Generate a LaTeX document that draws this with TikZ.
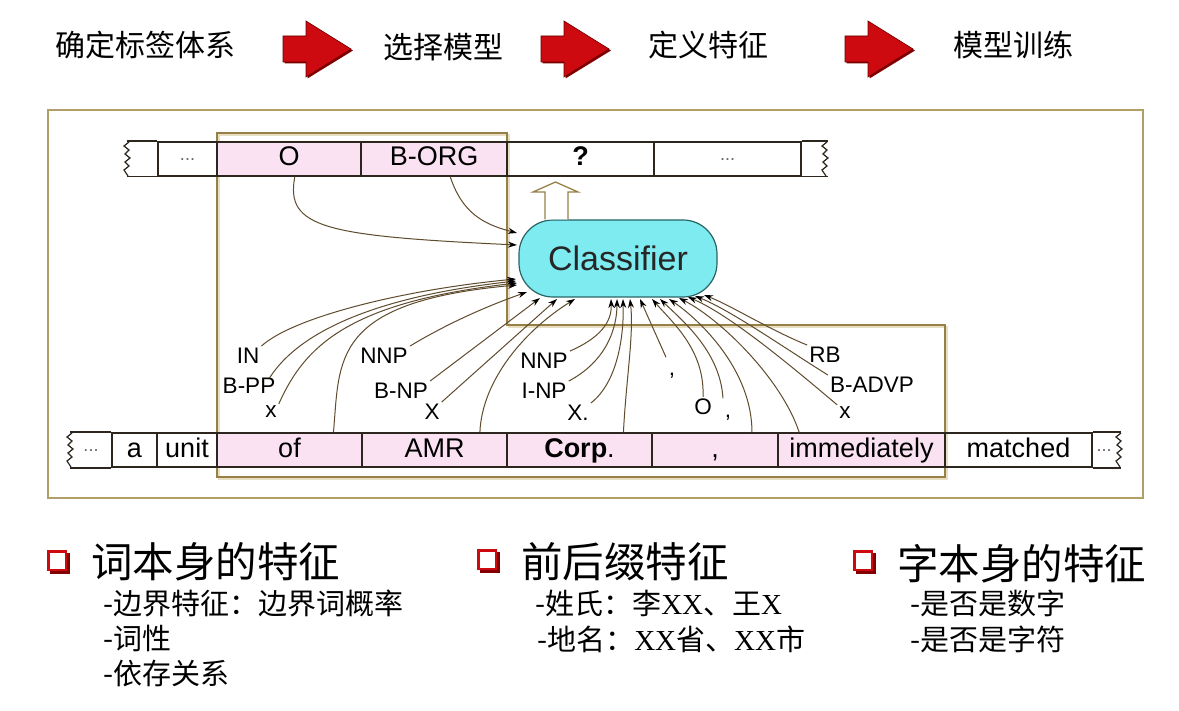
\documentclass[tikz,border=0pt]{standalone}
\usepackage{fontspec}
\setmainfont{Liberation Sans}
\newfontfamily\cjk{Noto Sans CJK SC}
\newfontfamily\tms{Liberation Serif}
\usetikzlibrary{arrows.meta,calc}
\definecolor{framec}{RGB}{176,160,104}
\definecolor{innerc}{RGB}{150,128,70}
\definecolor{shadc}{RGB}{232,222,196}
\definecolor{rowc}{RGB}{45,38,30}
\definecolor{pinkc}{RGB}{250,226,242}
\definecolor{linec}{RGB}{95,75,45}
\definecolor{clsfill}{RGB}{125,235,240}
\definecolor{clsdraw}{RGB}{40,100,100}
\definecolor{redc}{RGB}{205,10,15}
\definecolor{darkred}{RGB}{130,0,0}
\tikzset{
  cellw/.style={draw=rowc, line width=1.5pt, minimum height=34pt, inner sep=0pt,
    text height=19pt, text depth=5pt, font=\fontsize{27}{30}\selectfont},
  cellp/.style={cellw, fill=pinkc},
  dots/.style={font=\fontsize{18}{20}\selectfont, text=black!60, inner sep=0pt},
  lab/.style={font=\fontsize{22.5}{25}\selectfont, inner sep=2pt},
  feat/.style={draw=linec, line width=1pt, -{Stealth[length=9pt,width=6pt,color=black]}},
  toplab/.style={font=\cjk\fontsize{30}{33}\selectfont, inner sep=0pt},
  head/.style={font=\cjk\fontsize{41.5}{45}\selectfont, anchor=west, inner sep=0pt},
  item/.style={font=\cjk\fontsize{29}{32}\selectfont, anchor=west, inner sep=0pt},
  jag/.style={draw=rowc, line width=1.2pt},
  redarr/.pic={
    \fill[darkred] (1.5,-11.5) -- (24.5,-11.5) -- (24.5,-26.5) -- (70,1.5) -- (24.5,29.5) -- (24.5,14.5) -- (1.5,14.5) -- cycle;
    \fill[redc, draw=darkred!80!black, line width=0.6pt] (0,-13) -- (23,-13) -- (23,-28) -- (68,0) -- (23,28) -- (23,13) -- (0,13) -- cycle;
  },
  bullet/.pic={
    \fill[darkred] (3,3) rectangle (23,24);
    \draw[redc, fill=white, line width=2.5pt] (1.5,1.5) rectangle (19,20);
  }
}
\begin{document}
\begin{tikzpicture}[x=1pt,y=-1pt]
\useasboundingbox[fill=white] (0,0) rectangle (1179,711);

% ---- top process row
\node[toplab] (s1) at (146,45) {确定标签体系};
\node[toplab] (s2) at (443,47) {选择模型};
\node[toplab] (s3) at (708,45) {定义特征};
\node[toplab] (s4) at (1013,45) {模型训练};
\pic at (283,49) {redarr};
\pic at (541,49) {redarr};
\pic at (845,49) {redarr};

% ---- outer frame
\draw[framec, line width=2pt] (48,110) rectangle (1143,498);

% ---- inner outline (window)
\draw[shadc, line width=2pt] (219,135) -- (509,135) -- (509,327) -- (947,327) -- (947,479) -- (219,479) -- cycle;
\draw[innerc, line width=1.5pt] (217,133) -- (507,133) -- (507,325) -- (945,325) -- (945,477) -- (217,477) -- cycle;

% ---- top tag row
\node[cellw, minimum width=59] (t1) at (187.5,159) {};
\node[dots] at (187.5,160) {...};
\node[cellp, minimum width=144] (to) at (289,159) {O};
\node[cellp, minimum width=146] (tb) at (434,159) {B-ORG};
\node[cellw, minimum width=147, font=\fontsize{27}{30}\selectfont\bfseries] (tq) at (580.5,159) {?};
\node[cellw, minimum width=147] (t5) at (727.5,159) {};
\node[dots] at (727.5,160) {...};
\draw[rowc, line width=1.5pt] (t1.north west) -- ++(-30,0);
\draw[rowc, line width=1.5pt] (t1.south west) -- ++(-30,0);
\draw[rowc, line width=1.5pt] (t5.north east) -- ++(26,0);
\draw[rowc, line width=1.5pt] (t5.south east) -- ++(26,0);
\draw[jag] (129,142) -- (124,146) -- (129,150) -- (125,154) -- (130,158) -- (125,162) -- (129,166) -- (124,170) -- (128,176);
\draw[jag] (827,142) -- (822,146) -- (827,150) -- (823,154) -- (828,158) -- (823,162) -- (827,166) -- (822,170) -- (826,176);

% ---- classifier
\node[draw=clsdraw, fill=clsfill, line width=1.2pt, rounded corners=34pt,
      minimum width=198, minimum height=77, inner sep=0pt,
      font=\fontsize{34}{38}\selectfont, text=black!85] (cls) at (618,258.5) {Classifier};
\draw[innerc, fill=white, line width=1.3pt] (cls.north -| 545,0) -- (545,192) -- (533,192) -- (555.5,182) -- (578,192) -- (568,192) -- (cls.north -| 568,0);

% ---- bottom word row
\node[dots] (b0) at (91,451) {...};
\node[cellw, minimum width=45] (ba) at (134.5,450) {a};
\node[cellw, minimum width=60] (bu) at (187,450) {unit};
\node[cellp, minimum width=145] (bof) at (289.5,450) {of};
\node[cellp, minimum width=145] (bamr) at (434.5,450) {AMR};
\node[cellp, minimum width=145] (bcorp) at (579.5,450) {\textbf{Corp}.};
\node[cellp, minimum width=126] (bcom) at (715,450) {,};
\node[cellp, minimum width=167] (bimm) at (861.5,450) {immediately};
\node[cellw, minimum width=147] (bmat) at (1018.5,450) {matched};
\node[dots] (b9) at (1104,451) {...};
\draw[rowc, line width=1.5pt] (ba.north west) -- ++(-41,0);
\draw[rowc, line width=1.5pt] (ba.south west) -- ++(-41,0);
\draw[rowc, line width=1.5pt] (bmat.north east) -- ++(28,0);
\draw[rowc, line width=1.5pt] (bmat.south east) -- ++(28,0);
\draw[jag] (72,433) -- (67,437) -- (72,441) -- (68,445) -- (73,449) -- (68,453) -- (72,457) -- (67,461) -- (71,467);
\draw[jag] (1121,433) -- (1116,437) -- (1121,441) -- (1117,445) -- (1122,449) -- (1117,453) -- (1121,457) -- (1116,461) -- (1120,467);

% ---- feature labels
\node[lab] (lIN) at (248,356) {IN};
\node[lab] (lBPP) at (249,386) {B-PP};
\node[lab] (lx) at (271,412) {x};
\node[lab] (lNNPa) at (384,356) {NNP};
\node[lab] (lBNP) at (401,391) {B-NP};
\node[lab] (lX) at (432,412) {X};
\node[lab] (lNNPb) at (544,361) {NNP};
\node[lab] (lINP) at (544,391) {I-NP};
\node[lab] (lXd) at (578,413) {X.};
\node[lab, anchor=base] (lca) at (672,376) {,};
\node[lab] (lO) at (703,407) {O};
\node[lab, anchor=base] (lcb) at (728,418) {,};
\node[lab] (lRB) at (825,355) {RB};
\node[lab] (lBADVP) at (872,385) {B-ADVP};
\node[lab] (lxb) at (845,413) {x};

% ---- arrow end points on the classifier
\coordinate (kO) at (517,245);
\coordinate (kB) at (517,233);
\coordinate (k1) at (516,279);
\coordinate (k2) at (516,281);
\coordinate (k3) at (517,283);
\coordinate (k4) at (517,285);
\coordinate (k5) at (527,292);
\coordinate (k6) at (540,298);
\coordinate (k7) at (557,299);
\coordinate (k8) at (575,299);
\coordinate (k9) at (611,299);
\coordinate (k10) at (617,299);
\coordinate (k11) at (623,299);
\coordinate (k12) at (630,299);
\coordinate (k13) at (640,299);
\coordinate (k14) at (652,299);
\coordinate (k15) at (660,299);
\coordinate (k16) at (669,299);
\coordinate (k17) at (679,298);
\coordinate (k18) at (688,297);
\coordinate (k19) at (695,296);
\coordinate (k20) at (704,295);

% ---- connectors from previous tags
\draw[feat] ($(to.south west)!0.54!(to.south east)$) .. controls (285,228) and (325,236) .. (kO);
\draw[feat] ($(tb.south west)!0.61!(tb.south east)$) .. controls (462,212) and (482,224) .. (kB);

% ---- connectors from features
\draw[feat] (lIN.north east) .. controls (292,318) and (400,290) .. (k1);
\draw[feat] ($(lBPP.north east)+(-8,2)$) .. controls (300,330) and (380,296) .. (k2);
\draw[feat] (lx.north east) .. controls (305,345) and (350,302) .. (k3);
\draw[feat] ($(bof.north west)!0.8!(bof.north east)$) .. controls (340,360) and (330,302) .. (k4);
\draw[feat] (lNNPa.north east) .. controls (450,322) and (490,305) .. (k5);
\draw[feat] (lBNP.north east) -- (k6);
\draw[feat] (lX.north east) -- (k7);
\draw[feat] ($(bamr.north west)!0.81!(bamr.north east)$) .. controls (482,380) and (525,330) .. (k8);
\draw[feat] (lNNPb.north east) .. controls (600,338) and (612,322) .. (k9);
\draw[feat] (lINP.north east) .. controls (605,362) and (617,330) .. (k10);
\draw[feat] (lXd.north east) .. controls (618,382) and (624,335) .. (k11);
\draw[feat] ($(bcorp.north west)!0.8!(bcorp.north east)$) .. controls (626,380) and (634,335) .. (k12);
\draw[feat] ($(lca)+(-6,-19)$) -- (k13);
\draw[feat] (lO.north) .. controls (705,350) and (672,322) .. (k14);
\draw[feat] ($(lcb)+(-5,-20)$) .. controls (720,352) and (684,322) .. (k15);
\draw[feat] ($(bcom.north west)!0.79!(bcom.north east)$) .. controls (752,370) and (700,320) .. (k16);
\draw[feat] ($(bimm.north west)!0.13!(bimm.north east)$) .. controls (782,380) and (722,320) .. (k17);
\draw[feat] (lxb.north west) .. controls (790,365) and (730,315) .. (k18);
\draw[feat] (lBADVP.north west) .. controls (780,345) and (730,310) .. (k19);
\draw[feat] (lRB.north west) .. controls (770,330) and (730,305) .. (k20);

% ---- bottom lists
\pic at (47,550) {bullet};
\pic at (477,549) {bullet};
\pic at (853,550) {bullet};
\node[head] (h1) at (91,562) {词本身的特征};
\node[head] (h2) at (521,562) {前后缀特征};
\node[head] (h3) at (897,564) {字本身的特征};
\node[item] (i11) at (103,603) {-边界特征：边界词概率};
\node[item] (i12) at (103,638) {-词性};
\node[item] (i13) at (103,674) {-依存关系};
\node[item] (i21) at (535,603) {-姓氏：李{\tms XX}、王{\tms X}};
\node[item] (i22) at (537,639) {-地名：{\tms XX}省、{\tms XX}市};
\node[item] (i31) at (910,603) {-是否是数字};
\node[item] (i32) at (910,639) {-是否是字符};
\end{tikzpicture}
\end{document}
